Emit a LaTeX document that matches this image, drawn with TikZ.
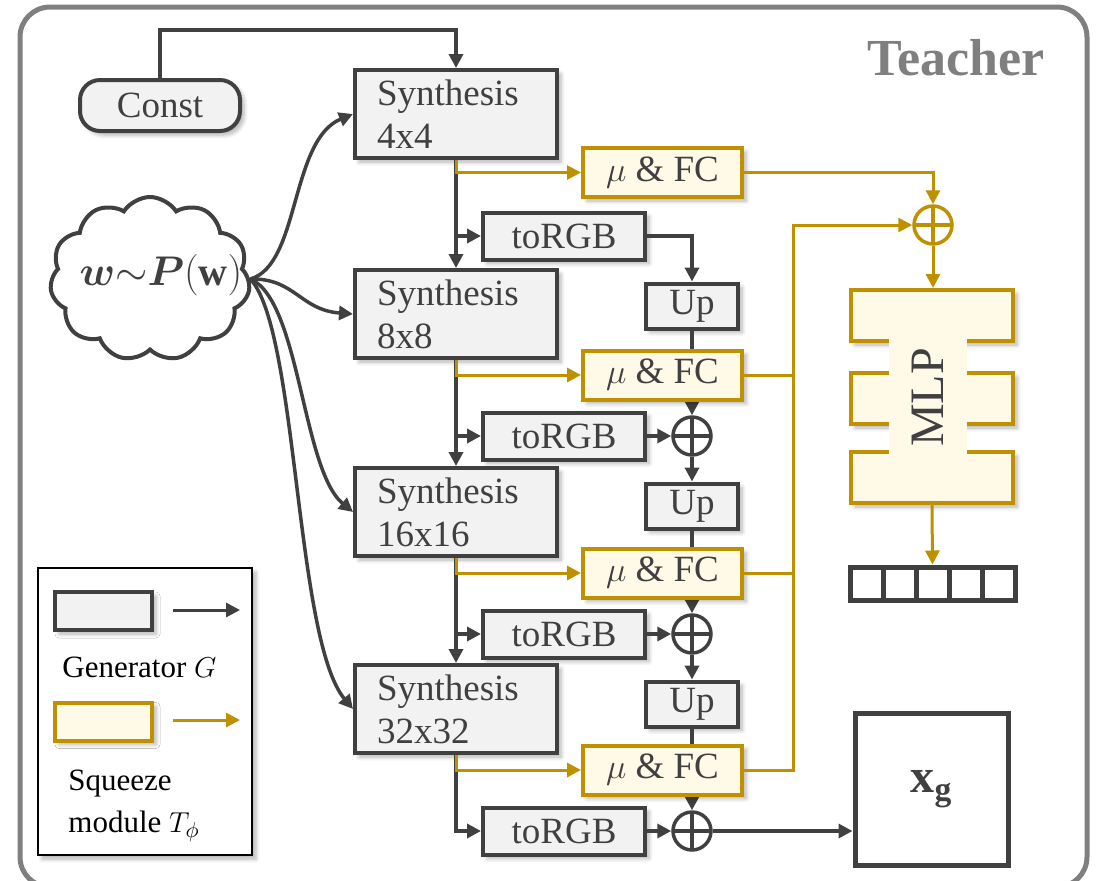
\documentclass[tikz,border=0pt]{standalone}
\usepackage{amsmath}
\usepackage{fontspec}
\setmainfont{Liberation Serif}
\usetikzlibrary{positioning,arrows.meta,shapes.symbols,shadows.blur}
\definecolor{dgray}{HTML}{404040}
\definecolor{lgray}{HTML}{F2F2F2}
\definecolor{gold}{HTML}{BF9000}
\definecolor{cream}{HTML}{FFF9E8}
\definecolor{framegray}{HTML}{7F7F7F}
\tikzset{
  softshadow/.style={blur shadow={shadow xshift=2pt,shadow yshift=-2pt,shadow blur radius=2pt,shadow blur steps=6,shadow opacity=30}},
  genbox/.style={draw=dgray,fill=lgray,line width=2pt,text=dgray,inner sep=0pt,
    font=\fontsize{18.5}{21.5}\selectfont,softshadow},
  sqz/.style={genbox,draw=gold,fill=cream},
  synbox/.style={genbox,align=left,text width=79pt,inner xsep=11pt,minimum height=44pt},
  rgbbox/.style={genbox,minimum width=81pt,minimum height=23.5pt},
  upbox/.style={genbox,minimum width=46pt,minimum height=22.5pt},
  fcbox/.style={sqz,minimum width=79.5pt,minimum height=24.5pt},
  addnode/.style={circle,draw=#1,line width=1.75pt,fill=white,minimum size=19pt,inner sep=0pt,
    path picture={\draw[#1,line width=1.75pt]
      (path picture bounding box.north) -- (path picture bounding box.south)
      (path picture bounding box.west) -- (path picture bounding box.east);}},
  addnode/.default=dgray,
  cell/.style={draw=dgray,line width=2.5pt,fill=white,minimum size=16.5pt,inner sep=0pt},
  legtext/.style={anchor=base west,inner sep=0pt,font=\fontsize{15.5}{19}\selectfont},
  garrow/.style={draw=dgray,line width=1.75pt,-{Triangle[length=7pt,width=7pt]}},
  yarrow/.style={draw=gold,line width=1.5pt,-{Triangle[length=7pt,width=7pt]}},
  yline/.style={draw=gold,line width=1.5pt},
}
\begin{document}
\begin{tikzpicture}[x=0.5pt,y=0.5pt]
  \useasboundingbox (0,0) rectangle (1099,-880);
  % --- teacher frame and title ---
  \draw[framegray,line width=2.5pt,rounded corners=15pt] (20,-7) rectangle (1087,-887);
  \node[anchor=base east,inner sep=0pt,text=framegray,font=\fontsize{26}{30}\selectfont\bfseries] (teacher) at (1045,-75) {Teacher};
  % --- const input and latent cloud ---
  \node[genbox,rounded corners=10pt,minimum width=80pt,minimum height=25.5pt] (const) at (160,-105.5) {Const};
  \node[cloud,cloud puffs=11,cloud puff arc=115,cloud ignores aspect,draw=dgray,line width=2pt,fill=white,
        minimum width=100pt,minimum height=82pt] (cloud) at (150,-279) {};
  \node[text=dgray,font=\fontsize{20}{24}\selectfont] (wtxt) at (161,-275) {$\boldsymbol{w}{\sim}\boldsymbol{P}(\mathbf{w})$};
  % --- generator blocks ---
  \foreach \i/\y/\res in {1/114/4x4,2/314/8x8,3/512/16x16,4/709/32x32}{
    \node[synbox] (syn\i) at (456,-\y) {Synthesis\\\res};
    \node[rgbbox] (rgb\i) at (564,-\y-122) {toRGB};
  }
  \foreach \i/\y in {1/114,2/314,3/512}
    \node[upbox] (up\i) at (692,-\y-192) {Up};
  \foreach \i/\y in {2/314,3/512,4/709}
    \node[addnode] (add\i) at (692,-\y-122) {};
  % up -> add runs behind the mu & FC boxes
  \foreach \i/\j in {1/2,2/3,3/4}
    \draw[garrow] (up\i.south) -- (add\j.north);
  \foreach \i/\y in {1/111.5,2/314,3/512,4/709}
    \node[fcbox] (fc\i) at (662.5,-\y-61) {$\mu$ \& FC};
  % --- squeeze head ---
  \node[addnode=gold] (addT) at (933,-225) {};
  \foreach \k/\y in {1/315.5,2/398.5,3/477.5}
    \node[sqz,minimum width=81pt,minimum height=25.5pt] (mlp\k) at (932,-\y) {};
  \node[fill=cream,rotate=90,minimum width=67.5pt,minimum height=39pt,inner sep=0pt,text=dgray,
        font=\fontsize{24}{28}\selectfont] (mlp) at (928,-397.5) {MLP};
  \foreach \k in {0,...,4}
    \node[cell] (v\k) at (866.5+33*\k,-583.5) {};
  \node[draw=dgray,line width=2.5pt,fill=white,minimum width=76.5pt,minimum height=76pt,text=dgray,
        font=\fontsize{24}{28}\selectfont] (xg) at (931.5,-789) {$\mathbf{x}_{\mathbf{g}}$};
  % --- generator connectors ---
  \draw[garrow] (const.north) |- ([yshift=19pt]syn1.north) -- (syn1.north);
  \draw[garrow] (cloud.east) .. controls (300,-265) and (290,-140) .. (syn1.west);
  \draw[garrow] (cloud.east) .. controls (295,-278) and (300,-310) .. (syn2.west);
  \draw[garrow] (cloud.east) .. controls (300,-300) and (302,-470) .. (syn3.west);
  \draw[garrow] (cloud.east) .. controls (298,-330) and (295,-640) .. (syn4.west);
  \foreach \i/\j in {1/2,2/3,3/4}{
    \draw[garrow] (syn\i.south) -- (syn\j.north);
    \draw[garrow] (syn\i.south |- rgb\i.west) -- (rgb\i.west);
  }
  \draw[garrow] (syn4.south) |- (rgb4.west);
  \draw[garrow] (rgb1.east) -| (up1.north);
  \foreach \j in {2,3,4}
    \draw[garrow] (rgb\j.east) -- (add\j.west);
  \foreach \j in {2,3}
    \draw[garrow] (add\j.south) -- (up\j.north);
  \draw[garrow] (add4.east) -- (add4.east -| xg.west);
  % --- squeeze connectors ---
  \foreach \i in {1,...,4}
    \draw[yarrow] (syn\i.south) |- (fc\i.west);
  \coordinate (bus) at (793,-225);
  \draw[yarrow] (fc1.east) -| (addT.north);
  \draw[yarrow] (fc4.east) -| (bus) -- (addT.west);
  \foreach \i in {2,3}
    \draw[yline] (fc\i.east) -- (fc\i.east -| bus);
  \draw[yarrow] (addT.south) -- (addT.south |- mlp1.north);
  \draw[yarrow] (mlp3.south) -- (v2.north);
  % --- legend ---
  \node[draw=black,line width=1pt,fill=white,minimum width=107pt,minimum height=143.5pt,softshadow] (legend) at (145,-711.5) {};
  \node[genbox,minimum width=48.5pt,minimum height=19pt] (lgen) at (103.5,-611) {};
  \node[sqz,minimum width=48.5pt,minimum height=19pt] (lsqz) at (103.5,-721.5) {};
  \coordinate (lga) at (173,-610);
  \coordinate (lgb) at (240,-610);
  \coordinate (lsa) at (173,-720);
  \coordinate (lsb) at (240,-720);
  \draw[garrow,line width=1.5pt] (lga) -- (lgb);
  \draw[yarrow] (lsa) -- (lsb);
  \node[legtext] (lgentxt) at (62,-677) {Generator $G$};
  \node[legtext] (lsqztxt) at (68,-790) {Squeeze};
  \node[legtext] (lmodtxt) at (68,-832) {module $T_\phi$};
\end{tikzpicture}
\end{document}
